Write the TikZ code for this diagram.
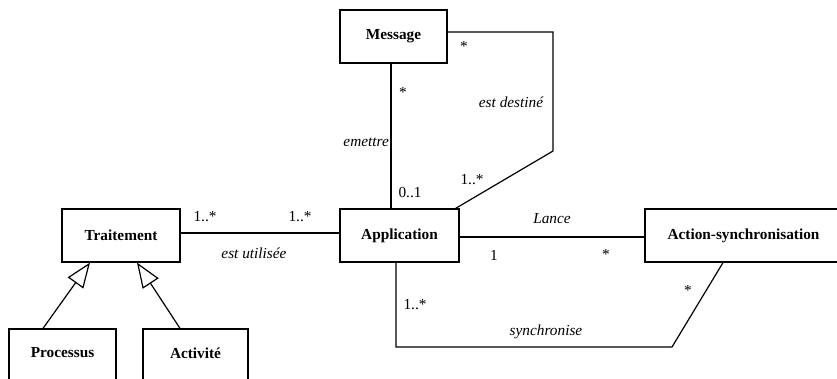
\documentclass[tikz,border=0pt]{standalone}
\usepackage{fontspec}
\setmainfont{Liberation Serif}
\usetikzlibrary{arrows.meta}
\begin{document}
\begin{tikzpicture}[x=1pt,y=-1pt,
  cls/.style={draw,line width=1.2pt,inner sep=0pt,font=\fontsize{15.3}{18}\selectfont\bfseries},
  lbl/.style={inner sep=0pt,font=\fontsize{15.3}{18}\selectfont\itshape},
  mult/.style={inner sep=0pt,font=\fontsize{15.3}{18}\selectfont},
  link/.style={line width=1.2pt},
  inh/.style={line width=1.2pt,-{Triangle[open,length=25pt,width=19pt,line width=1.2pt]}}]
\useasboundingbox (0,0) rectangle (837,378);
\node[cls,minimum width=107pt,minimum height=53pt] (msg) at (393.5,36.5) {Message};
\node[cls,minimum width=119pt,minimum height=53pt] (app) at (399.5,235.5) {Application};
\node[cls,minimum width=197pt,minimum height=53pt] (act) at (743.5,235.5) {Action-synchronisation};
\node[cls,minimum width=118pt,minimum height=53pt] (tr) at (121,235.5) {Traitement};
\node[cls,minimum width=107pt,minimum height=60pt] (proc) at (62.5,359) {};
\node[mult,font=\fontsize{15.3}{18}\selectfont\bfseries] (proct) at (62.5,353) {Processus};
\node[cls,minimum width=105pt,minimum height=60pt] (acti) at (195.5,359) {};
\node[mult,font=\fontsize{15.3}{18}\selectfont\bfseries] (actit) at (195.5,353) {Activité};
% emettre
\draw[link] ([xshift=-2.5pt]msg.south) -- ([xshift=-2.5pt]msg.south |- app.north);
% est destine
\coordinate (d1) at (553,32);
\coordinate (d2) at (553,151);
\draw[link] ([yshift=4.5pt]msg.east) -- (d1) -- (d2) -- ([xshift=-4pt]app.north east);
% Lance
\draw[link] ([yshift=-1.5pt]app.east) -- ([yshift=-1.5pt]act.west);
% est utilisee
\draw[link] ([yshift=2.5pt]tr.east) -- ([yshift=2.5pt]app.west);
% synchronise
\coordinate (s1) at (396,347);
\coordinate (s2) at (672,347);
\draw[link] ([xshift=-3.5pt]app.south) -- (s1) -- (s2) -- ([xshift=-20.5pt]act.south);
% inheritance
\draw[inh] ([xshift=-19.5pt]proc.north) -- ([xshift=-31pt]tr.south);
\draw[inh] ([xshift=-15.5pt]acti.north) -- ([xshift=16pt]tr.south);
% labels
\node[mult] (m1) at (464,46) {*};
\node[mult] (m2) at (403,92) {*};
\node[lbl] (l1) at (511,102) {est destiné};
\node[lbl,anchor=east] (l2) at (389,142) {emettre};
\node[mult] (m3) at (472,180) {1..*};
\node[mult] (m4) at (410,193) {0..1};
\node[lbl] (l3) at (552,219) {Lance};
\node[mult] (m5) at (494,255) {1};
\node[mult] (m6) at (606,254) {*};
\node[mult] (m7) at (205,217) {1..*};
\node[mult] (m8) at (300,217) {1..*};
\node[lbl] (l4) at (254,253) {est utilisée};
\node[mult] (m9) at (415,305) {1..*};
\node[lbl] (l5) at (546,332) {synchronise};
\node[mult] (m10) at (688,290) {*};
\end{tikzpicture}
\end{document}
